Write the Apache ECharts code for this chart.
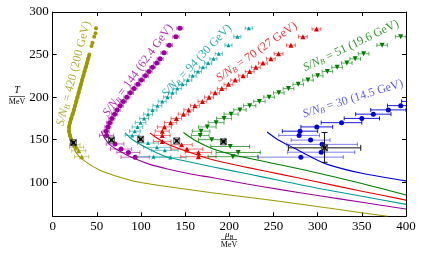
<!DOCTYPE html>
<html><head><meta charset="utf-8">
<script src="https://cdn.jsdelivr.net/npm/echarts@6/dist/echarts.min.js"></script>
<style>html,body{margin:0;padding:0;background:#fff}#c{width:422px;height:255px}</style>
</head><body><div id="c"></div>
<script>
const F = '"Liberation Serif", "DejaVu Serif", serif';
const xTicks = [0, 50, 100, 150, 200, 250, 300, 350, 400];
const yTicks = [100, 150, 200, 250, 300];

// [muB, T, xerr]
const oliveLattice = [[23,145,1.5],[21,150,1.5],[19.5,155,1.5],[18.5,160,1.5],[18.5,165,1.5],[19.5,170,1.5],[21,175,1.5],[22.5,180,1.5],[24,185,1.5],[25.3,190,1.5],[26.7,195,1.5],[28,200,1.5],[29.3,205,1.5],[30.6,210,1.5],[32,215,1.5],[33.3,220,1.5],[34.7,225,1.5],[36,230,1.5],[37.4,235,1.5],[38.8,240,1.5],[40.2,245,1.5],[41.5,250,1.5]];
const oliveTop = [[44,260,1.5],[45,264,1.5],[47,271,1.5],[48.5,275,1.5],[49,281,1.5]];
const oliveLower = [[25,144,6],[27,141,8],[29.5,137,8],[32.8,130,8]];
const purpleLattice = [[144,281,3.5],[139.5,271,3.5],[132,261,3.5],[126,252,3.5],[121.6,245,3.5],[117.8,240,3.5],[113,235,3.5],[109,230,3.5],[105,225,3.5],[100.5,220,3.5],[96.5,215,3.5],[92,210,3.5],[88,205,3.5],[84,200,3.5],[80,195,3.5],[76.5,190,3.5],[73,185,3.5],[70,180,3.5],[67,175,3.5],[64.5,170,3.5],[62.5,165,3.5],[60.5,160,3.5]];
const purpleLower = [[61,155,8],[70.6,145,10],[77.4,139,12],[85.7,135,13],[93.3,129.5,16]];
const tealLattice = [[222,281,4],[209,271,4],[199,261,4],[188,251,4],[182,245,4],[176,240,4],[170,235,4],[164.5,230,4],[158.5,225,4],[153,220,4.5],[147,215,4.5],[141,210,4.5],[135.5,205,4.5],[130,200,4.5],[124,195,4.5],[118.5,190,5],[113,185,5],[108,180,5],[103.5,175,5],[99.5,170,6],[96,165,6],[93,160,6]];
const tealLower = [[90,155,8],[108,146,12],[118,141,15],[127,137.5,15],[114,130,20],[133,129,18]];
const redLattice = [[298.6,280,5],[283.3,271,5],[269.7,261,5],[255.7,251,5],[247,245,5],[238,240,5],[230,235,5],[223,230,5],[215.5,225,5],[206.6,220,5],[199,215,5],[191.5,210,5],[184,205,5],[177,200,5],[169.5,195,5],[161,190,5],[154,185,5.5],[148,180,6],[140,175,6],[133.5,170,7],[126.5,165,8],[124,160,8]];
const redLower = [[124,155,9],[124,148,10],[146,144,12],[152,139,18],[165,135,15],[165,130,20]];
const greenLattice = [[394,271,6],[373,261,6],[352,251,6],[342.5,245,6],[333,240,6],[322,235,6],[311,230,6],[300,225,6],[289,220,6],[278,215,6],[267,210,6],[256,205,6],[245,200,6],[234,195,6.5],[223,190,7],[212,185,7],[202,180,8],[194,175,8.5],[185,170,9],[175,165,10],[168,160,10],[167,155,10]];
const greenLower = [[180,150,15],[201,142,22],[210,135,25],[204,130,28]];
const blueUpper = [[280,160,20],[299,165,18],[327,170,23],[350,175,20],[363,180,20],[380,185,20],[394,190,15],[410,195,15]];
const blueLower = [[279,155,23],[292,149.5,22],[305,144.5,40],[304,135.3,38],[281,129.5,48]];
// freeze-out points [muB, T, xerr, yerrUp, yerrDown]
const freezeOut = [[23.5,146.5,2,2,2],[66.6,149.6,2,2,2],[99.6,150.5,2,2,2],[140.4,148.6,2,2,2],[193.3,147.5,3,2,2]];
const freezeBlue = [[307.8,140.4,41,18,17]];

// isentropic trajectories [muB, T]
const oliveCurve = [[19,170],[19.2,160],[20.3,153],[23.4,142],[27,134],[34.7,126],[53.5,114],[72.5,107],[91,101.5],[110,98],[129,95],[178,88],[250,78.5],[320,68.5],[379,60]];
const purpleCurve = [[55,160],[60,150],[66,143],[75,137],[90,129],[110,121],[130,115.5],[155,110],[180,105.5],[220,98],[260,91],[300,84.5],[350,76.5],[400,68.6]];
const tealCurve = [[82,158],[88,152],[95,147],[105,141],[117,135],[129,130],[150,125],[179,118.5],[220,110],[260,101.5],[300,93],[350,83.5],[400,74]];
const redCurve = [[110,158],[118,152],[127,146.5],[136.6,142],[150,137],[179,127],[220,117.5],[260,109],[292,102],[350,89.5],[400,79]];
const greenCurve = [[148,158.5],[160,150],[172,143.5],[186,137.6],[205,132],[223,128],[246,123],[292.6,112.6],[350,98.5],[400,85]];
const blueCurve = [[242.7,159],[255,150],[273.6,140],[290,131],[311,121],[350,110.5],[400,101.6]];

const C = {olive:'#9a9a00', purple:'#990099', teal:'#009999', red:'#e00000', green:'#007a00', blue:'#0000d0'};

function fade(hex, a){const n=parseInt(hex.slice(1),16);return `rgba(${n>>16},${(n>>8)&255},${n&255},${a})`;}

function errSeries(data, color, alpha){
  return {type:'custom', clip:true, z:3, silent:true, data:data,
    encode:{x:0,y:1},
    renderItem:function(params, api){
      const x=api.value(0), t=api.value(1), e=api.value(2);
      const l=api.coord([x-e,t]), r=api.coord([x+e,t]);
      const st={stroke:fade(color,alpha), lineWidth:1};
      return {type:'group', children:[
        {type:'line', shape:{x1:l[0],y1:l[1],x2:r[0],y2:r[1]}, style:st},
        {type:'line', shape:{x1:l[0],y1:l[1]-2,x2:l[0],y2:l[1]+2}, style:st},
        {type:'line', shape:{x1:r[0],y1:r[1]-2,x2:r[0],y2:r[1]+2}, style:st}
      ]};
    }};
}
function markSeries(data, color, symbol, size, rot){
  return {type:'scatter', z:4, silent:true, data:data.map(d=>[d[0],d[1]]), symbol:symbol, symbolSize:size, symbolRotate:rot||0,
    itemStyle:{color:color, opacity:1}};
}
function curveSeries(data, color){
  return {type:'line', z:2, silent:true, data:data, smooth:0.3, showSymbol:false, symbol:'none', lineStyle:{color:color, width:1.1}};
}
function freezeSeries(data){
  return {type:'custom', clip:true, z:6, silent:true, data:data, encode:{x:0,y:1},
    renderItem:function(params, api){
      const x=api.value(0), t=api.value(1), e=api.value(2), up=api.value(3), dn=api.value(4);
      const p=api.coord([x,t]), l=api.coord([x-e,t]), r=api.coord([x+e,t]), u=api.coord([x,t+up]), d=api.coord([x,t-dn]);
      const st={stroke:'#111', lineWidth:1};
      const s=3;
      const ch=[
        {type:'line', shape:{x1:l[0],y1:l[1],x2:r[0],y2:r[1]}, style:st},
        {type:'line', shape:{x1:u[0],y1:u[1],x2:d[0],y2:d[1]}, style:st},
        {type:'line', shape:{x1:p[0]-s,y1:p[1]-s,x2:p[0]+s,y2:p[1]+s}, style:{stroke:'#000',lineWidth:1.3}},
        {type:'line', shape:{x1:p[0]-s,y1:p[1]+s,x2:p[0]+s,y2:p[1]-s}, style:{stroke:'#000',lineWidth:1.3}},
        {type:'rect', shape:{x:p[0]-s,y:p[1]-s,width:2*s,height:2*s}, style:{stroke:'#444',fill:'rgba(0,0,0,0.15)',lineWidth:0.8}}
      ];
      if(e>5){
        ch.push({type:'line', shape:{x1:l[0],y1:l[1]-3,x2:l[0],y2:l[1]+3}, style:st});
        ch.push({type:'line', shape:{x1:r[0],y1:r[1]-3,x2:r[0],y2:r[1]+3}, style:st});
        ch.push({type:'line', shape:{x1:u[0]-3,y1:u[1],x2:u[0]+3,y2:u[1]}, style:st});
        ch.push({type:'line', shape:{x1:d[0]-3,y1:d[1],x2:d[0]+3,y2:d[1]}, style:st});
      }
      return {type:'group', children:ch};
    }};
}

const axisLineStyle = {color:'#000', width:1};
const option = {
  animation:false,
  backgroundColor:'#fff',
  grid:{left:52.7, right:16, top:12, bottom:38.7, containLabel:false},
  xAxis:[
    {type:'value', min:0, max:400, interval:50, position:'bottom',
     axisLine:{show:true, onZero:false, lineStyle:axisLineStyle},
     axisTick:{show:true, inside:true, length:4, lineStyle:axisLineStyle},
     axisLabel:{show:true, fontFamily:F, fontSize:13, color:'#000', margin:4},
     splitLine:{show:false}},
    {type:'value', min:0, max:400, interval:50, position:'top',
     axisLine:{show:true, onZero:false, lineStyle:axisLineStyle},
     axisTick:{show:true, inside:true, length:4, lineStyle:axisLineStyle},
     axisLabel:{show:false}, splitLine:{show:false}}
  ],
  yAxis:[
    {type:'value', min:60, max:300, position:'left',
     axisLine:{show:true, onZero:false, lineStyle:axisLineStyle},
     axisTick:{show:true, inside:true, length:4, lineStyle:axisLineStyle, customValues:yTicks},
     axisLabel:{show:true, fontFamily:F, fontSize:13, color:'#000', margin:4, customValues:yTicks},
     splitLine:{show:false}},
    {type:'value', min:60, max:300, position:'right',
     axisLine:{show:true, onZero:false, lineStyle:axisLineStyle},
     axisTick:{show:true, inside:true, length:4, lineStyle:axisLineStyle, customValues:yTicks},
     axisLabel:{show:false}, splitLine:{show:false}}
  ],
  series:[
    curveSeries(oliveCurve, C.olive),
    curveSeries(purpleCurve, C.purple),
    curveSeries(tealCurve, C.teal),
    curveSeries(redCurve, C.red),
    curveSeries(greenCurve, C.green),
    curveSeries(blueCurve, C.blue),

    {type:'line', z:3, silent:true, data:oliveLattice.map(d=>[d[0],d[1]]), showSymbol:true, symbol:'circle', symbolSize:4,
     itemStyle:{color:C.olive}, lineStyle:{color:C.olive, width:3.5}},
    markSeries(oliveTop, C.olive, 'circle', 4),
    errSeries(oliveLower, C.olive, 0.5), markSeries(oliveLower, C.olive, 'triangle', 5),

    errSeries(purpleLattice, C.purple, 0.55), markSeries(purpleLattice, C.purple, 'circle', 5),
    errSeries(purpleLower, C.purple, 0.55), markSeries(purpleLower, C.purple, 'circle', 5),

    errSeries(tealLattice, C.teal, 0.6), markSeries(tealLattice, C.teal, 'triangle', 4),
    errSeries(tealLower, C.teal, 0.55), markSeries(tealLower, C.teal, 'triangle', 4),

    errSeries(redLattice, C.red, 0.55), markSeries(redLattice, C.red, 'triangle', 5),
    errSeries(redLower, C.red, 0.55), markSeries(redLower, C.red, 'triangle', 5),

    errSeries(greenLattice, C.green, 0.6), markSeries(greenLattice, C.green, 'triangle', 5, 180),
    errSeries(greenLower, C.green, 0.7), markSeries(greenLower, C.green, 'triangle', 5, 180),

    errSeries(blueUpper, C.blue, 0.9), markSeries(blueUpper, C.blue, 'circle', 5),
    errSeries(blueLower, C.blue, 0.5), markSeries(blueLower, C.blue, 'circle', 5),

    freezeSeries(freezeOut), freezeSeries(freezeBlue)
  ]
};

const chart = echarts.init(document.getElementById('c'), null, {renderer:'canvas'});
chart.setOption(option);

// curve labels: [text value, colour, label centre (muB, T), angle in degrees]
const labels = [
  ['420 (200 GeV)', C.olive, [26.4, 227], 75.5],
  ['144 (62.4 GeV)', C.purple, [98.9, 229.8], 54],
  ['94 (30 GeV)', C.teal, [165.2, 240.6], 46.5],
  ['70 (27 GeV)', C.red, [232.6, 250.6], 35],
  ['51 (19.6 GeV)', C.green, [339, 257.6], 25.6],
  ['30 (14.5 GeV)', '#3333dd', [340.8, 195.3], 17.4]
];
const graphics = labels.map(function(L){
  const p = chart.convertToPixel({gridIndex:0}, L[2]);
  const a = L[3]*Math.PI/180;
  const off = 2.5;
  const col = fade(L[1], 0.8);
  return {type:'text', x:p[0]-off*Math.sin(a), y:p[1]-off*Math.cos(a), rotation:a, z:10,
    style:{text:'{i|S/N}{s|B}{n| = '+L[0]+'}', align:'center', verticalAlign:'middle',
      rich:{
        i:{fontFamily:F, fontStyle:'italic', fontSize:12, fill:col, lineHeight:13},
        s:{fontFamily:F, fontStyle:'italic', fontSize:8, fill:col, lineHeight:8, verticalAlign:'bottom'},
        n:{fontFamily:F, fontSize:12, fill:col, lineHeight:13}
      }}};
});
// axis titles as fractions
graphics.push(
  {type:'text', x:17, y:90.5, style:{text:'T', font:'italic 10px '+F, fill:'#000', align:'center', verticalAlign:'middle'}},
  {type:'line', shape:{x1:9, y1:96.5, x2:25, y2:96.5}, style:{stroke:'#000', lineWidth:0.6}},
  {type:'text', x:17, y:101.5, style:{text:'MeV', font:'8px '+F, fill:'#000', align:'center', verticalAlign:'middle'}},
  {type:'text', x:229, y:235, style:{text:'{i|μ}{s|B}', align:'center', verticalAlign:'middle',
     rich:{i:{fontFamily:F, fontStyle:'italic', fontSize:9, fill:'#000', lineHeight:10}, s:{fontFamily:F, fontStyle:'italic', fontSize:6, fill:'#000', lineHeight:6, verticalAlign:'bottom'}}}},
  {type:'line', shape:{x1:221, y1:239.5, x2:237, y2:239.5}, style:{stroke:'#000', lineWidth:0.6}},
  {type:'text', x:229, y:244.5, style:{text:'MeV', font:'8px '+F, fill:'#000', align:'center', verticalAlign:'middle'}}
);
chart.setOption({graphic:graphics});
</script>
</body></html>
